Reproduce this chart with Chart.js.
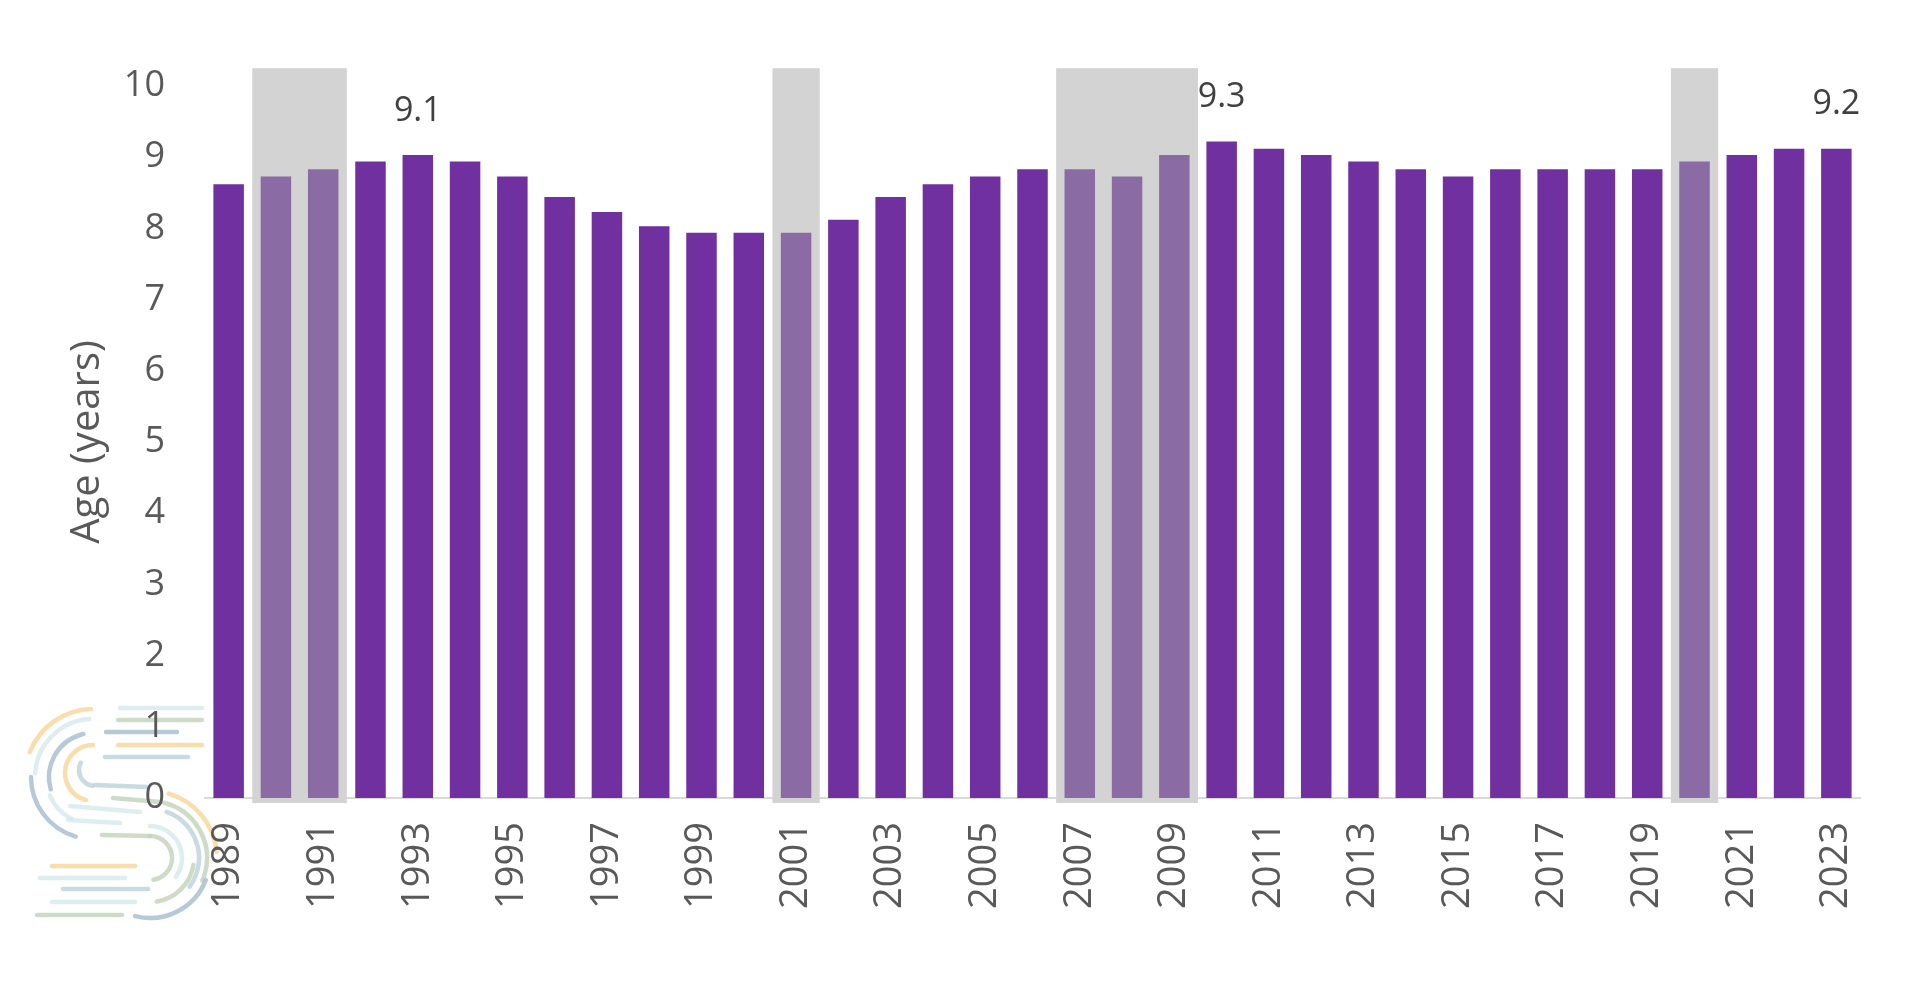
<!DOCTYPE html>
<html>
<head>
<meta charset="utf-8">
<script src="https://cdn.jsdelivr.net/npm/chart.js@4.4.1/dist/chart.umd.min.js"></script>
<style>
    html, body { margin: 0; padding: 0; background: #fff; }
</style>
</head>
<body>
<canvas id="myChart" width="1920" height="1008"></canvas>
<script>
// data
const years = ["1989","1990","1991","1992","1993","1994","1995","1996","1997","1998",
    "1999","2000","2001","2002","2003","2004","2005","2006","2007","2008",
    "2009","2010","2011","2012","2013","2014","2015","2016","2017","2018",
    "2019","2020","2021","2022","2023"];
const ages = [8.62, 8.73, 8.83, 8.94, 9.03, 8.94, 8.73, 8.44, 8.23, 8.03,
    7.94, 7.94, 7.94, 8.12, 8.44, 8.62, 8.73, 8.83, 8.83, 8.73,
    9.03, 9.22, 9.12, 9.03, 8.94, 8.83, 8.73, 8.83, 8.83, 8.83,
    8.83, 8.94, 9.03, 9.12, 9.12];
const yTicks = [0, 1, 2, 3, 4, 5, 6, 7, 8, 9, 10];
const recessionStart = ["1990", "2001", "2007", "2020"];
const recessionEnd = ["1991", "2001", "2009", "2020"];
const recessionTop = 10.25;
const labelYears = ["1993", "2010", "2023"];
const labelTexts = ["9.1", "9.3", "9.2"];

const PURPLE = "#7030a0";
const PURPLE_SHADED = "#8a6ba3";
const GREY_BAND = "#d3d3d3";
const TEXT = "#595959";

function inRecession(year) {
    for (let i = 0; i < recessionStart.length; i++) {
        if (year >= recessionStart[i] && year <= recessionEnd[i]) return true;
    }
    return false;
}

let barColors = years.map(y => inRecession(y) ? PURPLE_SHADED : PURPLE);

// faint "S" watermark in the bottom left corner
const watermark = {
    id: "watermark",
    beforeDraw(chart) {
        const ctx = chart.ctx;
        const peach = "rgba(250,212,150,0.8)";
        const pale = "rgba(214,232,236,0.8)";
        const sage = "rgba(194,210,184,0.8)";
        const blue = "rgba(164,188,206,0.8)";
        const teal = "rgba(186,210,218,0.8)";
        ctx.save();
        ctx.lineCap = "round";
        ctx.lineWidth = 4.5;
        // [cx, cy, r, start, end] in units of PI
        let arcs = [
            [93, 777, 68, 1.12, 1.49, peach],
            [93, 777, 58, 1.02, 1.48, pale],
            [93, 777, 44, 0.91, 1.43, blue],
            [93, 773, 28, 0.58, 1.5, peach],
            [95, 770, 16, 0.55, 1.15, teal],
            [93, 777, 62, 0.59, 1.0, blue],
            [93, 777, 47, 0.65, 0.87, pale],
            [150, 858, 67, -0.41, -0.03, peach],
            [150, 858, 57, -0.42, 0.13, sage],
            [150, 858, 49, -0.39, 0.2, teal],
            [150, 858, 32, -0.5, 0.2, pale],
            [150, 858, 22, -0.5, 0.45, sage],
            [150, 858, 60, 0.12, 0.58, blue],
            [150, 858, 44, 0.05, 0.45, sage]
        ];
        arcs.forEach(a => {
            ctx.strokeStyle = a[5];
            ctx.beginPath();
            ctx.arc(a[0], a[1], a[2], a[3] * Math.PI, a[4] * Math.PI);
            ctx.stroke();
        });
        // [x1, y1, x2, y2]
        let dashes = [
            [120, 708, 202, 708, pale], [118, 720, 202, 720, sage], [106, 732, 177, 732, blue],
            [118, 745, 202, 745, peach], [105, 757, 188, 757, teal],
            [95, 785, 147, 787, teal], [70, 806, 140, 812, pale], [68, 820, 120, 823, pale],
            [113, 798, 160, 802, sage], [102, 835, 150, 836, sage],
            [52, 866, 135, 866, peach], [40, 878, 125, 878, pale], [63, 889, 148, 889, teal],
            [52, 902, 135, 902, pale], [37, 915, 122, 915, sage]
        ];
        dashes.forEach(d => {
            ctx.strokeStyle = d[4];
            ctx.beginPath();
            ctx.moveTo(d[0], d[1]);
            ctx.lineTo(d[2], d[3]);
            ctx.stroke();
        });
        ctx.restore();
    }
};

// grey recession bands behind the bars
const recessionBands = {
    id: "recessionBands",
    beforeDatasetsDraw(chart) {
        const ctx = chart.ctx;
        const x = chart.scales.x;
        const y = chart.scales.y;
        const half = (x.getPixelForValue(1) - x.getPixelForValue(0)) / 2;
        ctx.save();
        ctx.fillStyle = GREY_BAND;
        for (let i = 0; i < recessionStart.length; i++) {
            let left = x.getPixelForValue(years.indexOf(recessionStart[i])) - half;
            let right = x.getPixelForValue(years.indexOf(recessionEnd[i])) + half;
            let top = y.getPixelForValue(recessionTop);
            let bottom = y.getPixelForValue(0) + 5;
            ctx.fillRect(left, top, right - left, bottom - top);
        }
        ctx.restore();
    }
};

// value labels above a few bars
const valueLabels = {
    id: "valueLabels",
    afterDatasetsDraw(chart) {
        const ctx = chart.ctx;
        const meta = chart.getDatasetMeta(0);
        ctx.save();
        ctx.font = "34px 'Open Sans'";
        ctx.fillStyle = "#404040";
        ctx.textAlign = "center";
        ctx.textBaseline = "middle";
        for (let i = 0; i < labelYears.length; i++) {
            let bar = meta.data[years.indexOf(labelYears[i])];
            ctx.fillText(labelTexts[i], bar.x, bar.y - 44);
        }
        ctx.restore();
    }
};

new Chart(document.getElementById("myChart"), {
    type: "bar",
    data: {
        labels: years,
        datasets: [{
            data: ages,
            backgroundColor: barColors,
            borderWidth: 0,
            barPercentage: 0.645,
            categoryPercentage: 1
        }]
    },
    options: {
        responsive: false,
        animation: false,
        devicePixelRatio: 1,
        layout: { padding: { top: 86, right: 60, left: 0, bottom: 0 } },
        plugins: {
            legend: { display: false },
            tooltip: { enabled: false }
        },
        scales: {
            x: {
                grid: { display: false, drawTicks: false },
                border: { display: true, color: "#d9d9d9", width: 2 },
                ticks: {
                    autoSkip: false,
                    maxRotation: 90,
                    minRotation: 90,
                    padding: 24,
                    color: TEXT,
                    font: { family: "'Open Sans'", size: 38 },
                    callback: function(value, index) {
                        return index % 2 === 0 ? years[index] : "";
                    }
                },
                afterFit: function(scale) { scale.height = 210; }
            },
            y: {
                min: 0,
                max: 10,
                grid: { display: false, drawTicks: false },
                border: { display: false },
                afterBuildTicks: function(scale) {
                    scale.ticks = yTicks.map(v => ({ value: v }));
                },
                ticks: {
                    padding: 40,
                    color: TEXT,
                    font: { family: "'Open Sans'", size: 36 }
                },
                title: {
                    display: true,
                    text: "Age (years)",
                    color: TEXT,
                    font: { family: "'Open Sans'", size: 40 },
                    padding: { top: 64, bottom: 0 }
                },
                afterFit: function(scale) { scale.width = 205; }
            }
        }
    },
    plugins: [watermark, recessionBands, valueLabels]
});
</script>
</body>
</html>
